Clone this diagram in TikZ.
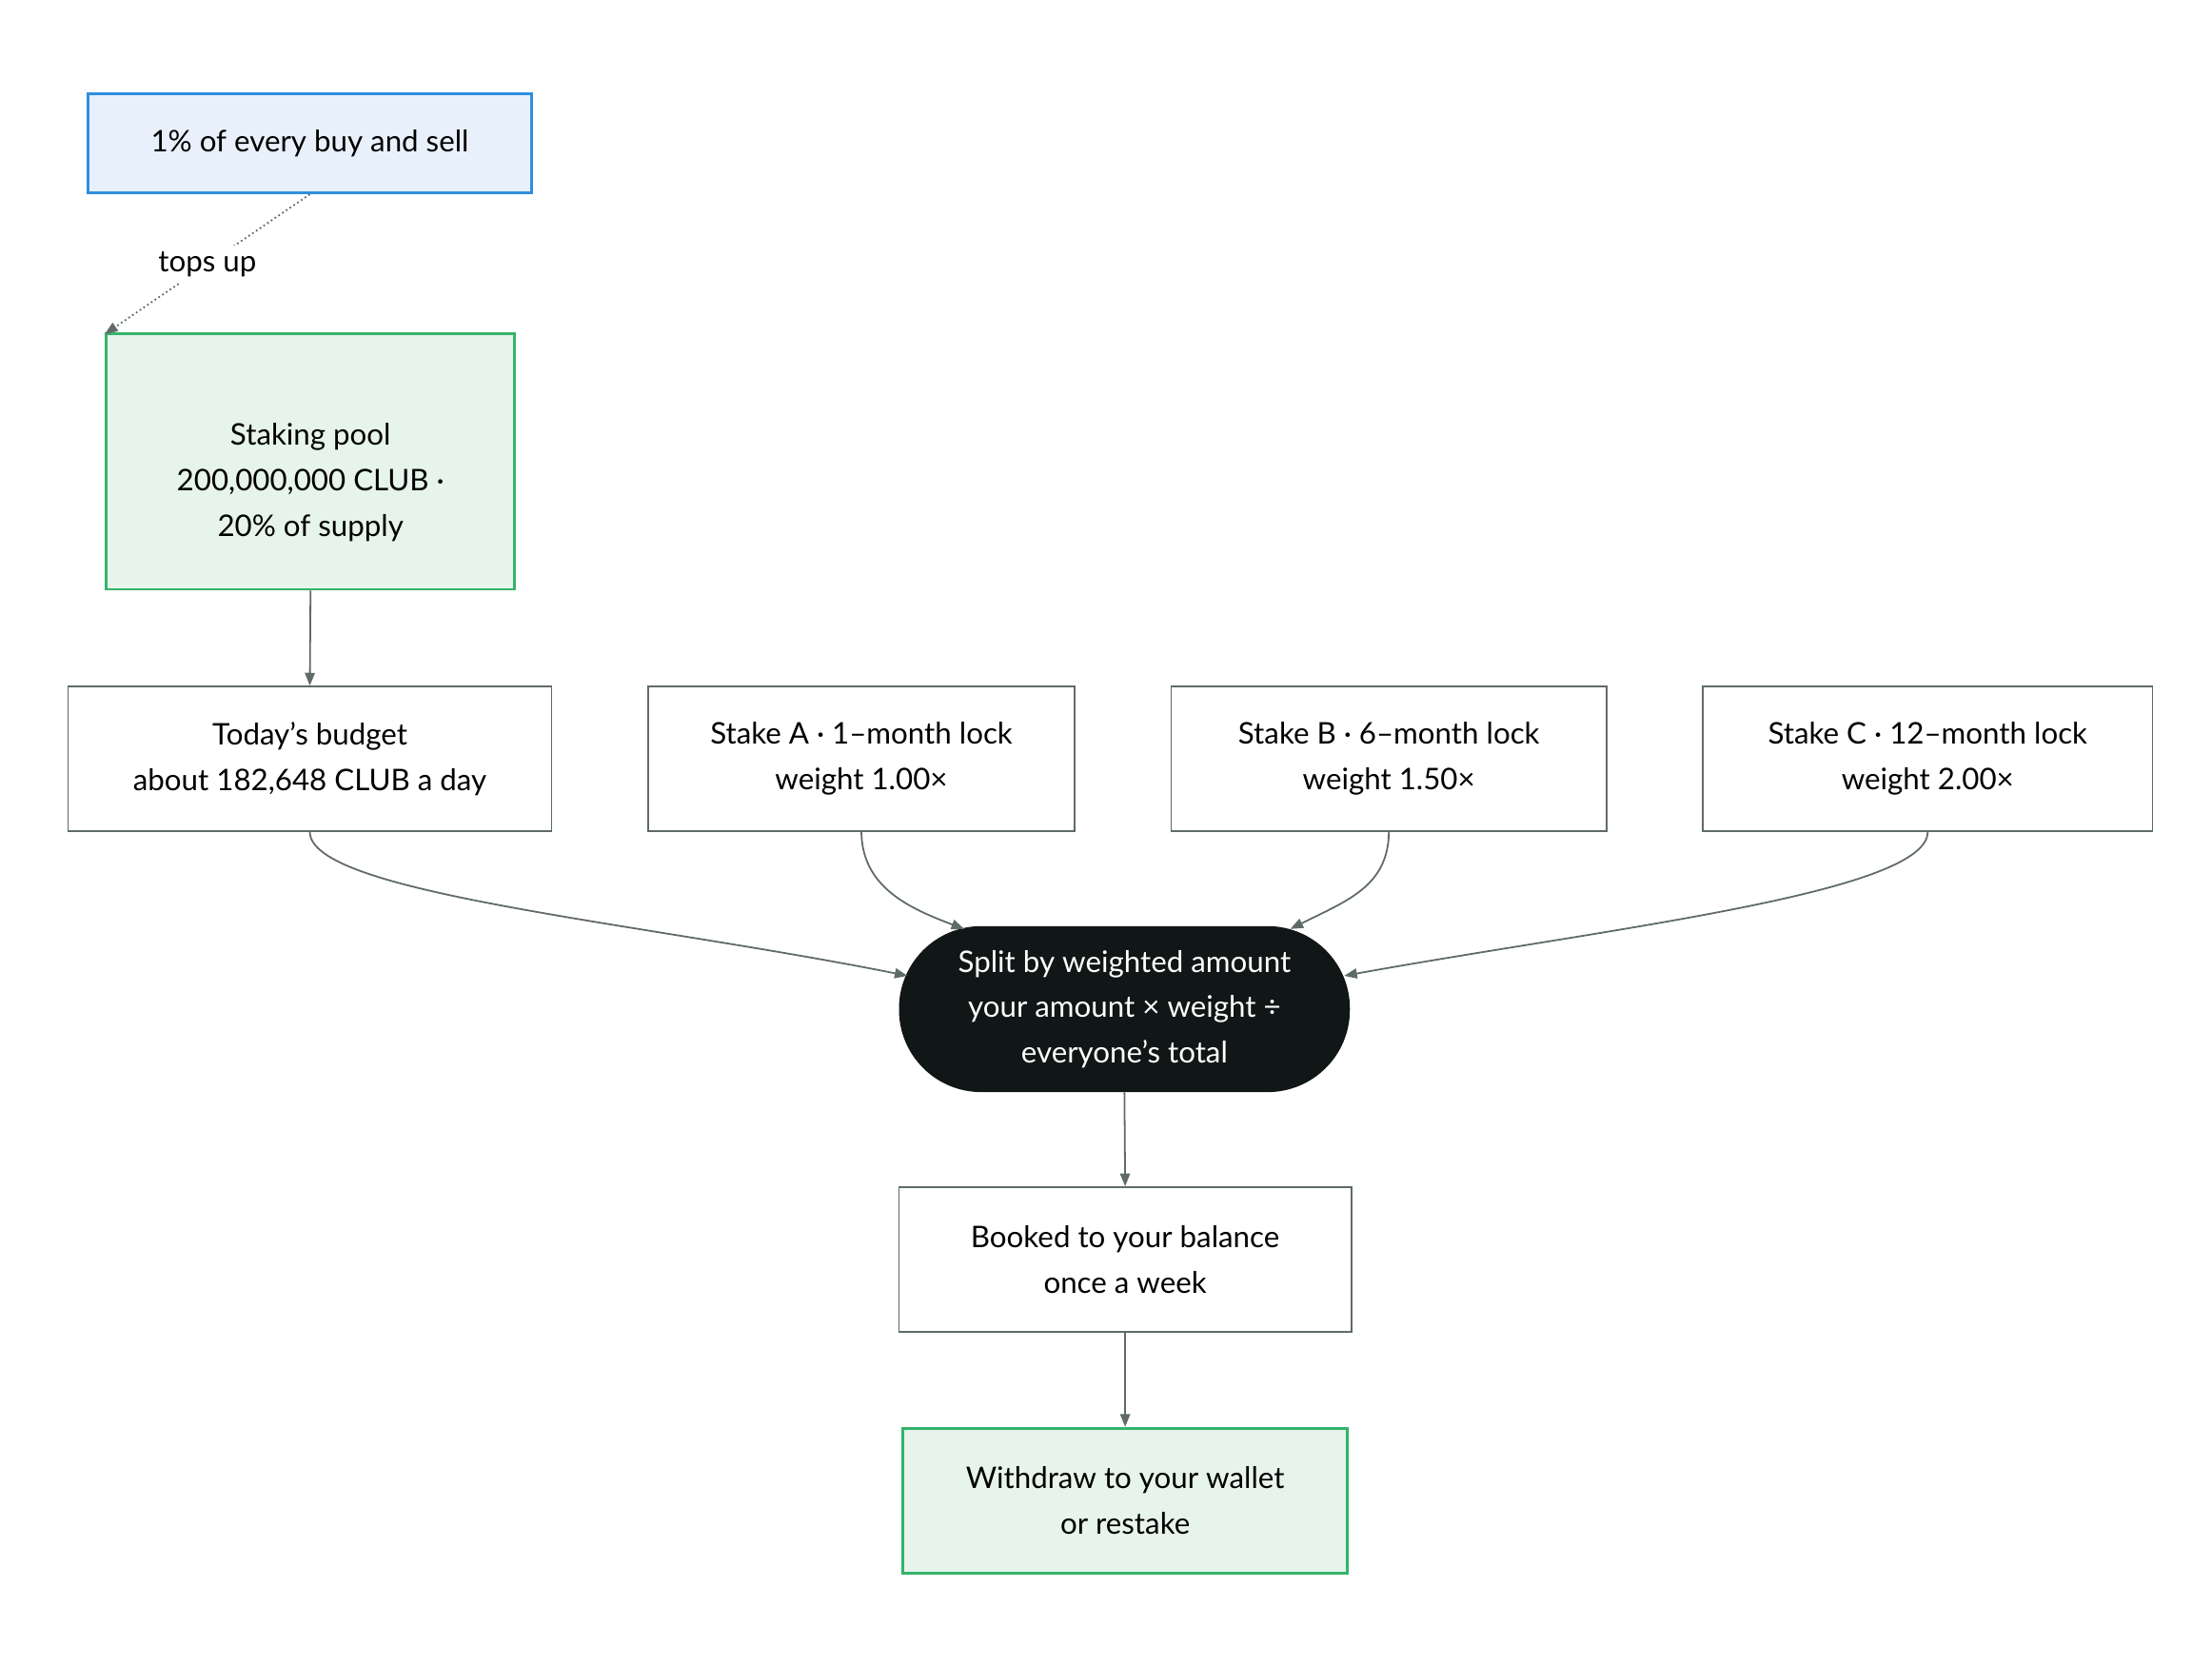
\documentclass[tikz,border=0pt]{standalone}
\usepackage{fontspec}
\setmainfont{Lato}
\usetikzlibrary{shapes.geometric,arrows.meta}
\definecolor{edge}{HTML}{5F6B66}
\definecolor{bluef}{HTML}{E8F1FB}
\definecolor{blueb}{HTML}{2F8FE0}
\definecolor{greenf}{HTML}{E6F4EC}
\definecolor{greenb}{HTML}{34B36A}
\definecolor{dark}{HTML}{111616}
\tikzset{
 every node/.style={font=\fontsize{21}{32}\selectfont, align=center, inner sep=0},
 plain/.style={draw=edge, line width=1.2pt, fill=white},
 conn/.style={draw=edge, line width=1.2pt, -{Triangle[length=9pt,width=7pt]}},
}
\begin{document}
\begin{tikzpicture}[x=1pt,y=-1pt]
\useasboundingbox (0,0) rectangle (1560,1175);
\node[draw=blueb, fill=bluef, line width=2pt, minimum width=313pt, minimum height=70pt] (src) at (218.5,101) {1\% of every buy and sell};
\node[cylinder, shape border rotate=90, aspect=0.28, draw=greenb, fill=greenf, line width=2pt, minimum width=288pt, minimum height=180pt] (pool) at (219,326) {};
\node at (219,340) {Staking pool\\200,000,000 CLUB ·\\20\% of supply};
\node[plain, minimum width=341pt, minimum height=102pt] (bud) at (218.5,535) {Today's budget\\about 182,648 CLUB a day};
\node[plain, minimum width=301pt, minimum height=102pt] (a) at (607.5,535) {Stake A · 1–month lock\\weight 1.00×};
\node[plain, minimum width=307pt, minimum height=102pt] (b) at (979.5,535) {Stake B · 6–month lock\\weight 1.50×};
\node[plain, minimum width=317pt, minimum height=102pt] (c) at (1359.5,535) {Stake C · 12–month lock\\weight 2.00×};
\node[fill=dark, text=white, rounded corners=58pt, minimum width=318pt, minimum height=117pt] (split) at (793,711.5) {Split by weighted amount\\your amount × weight ÷\\everyone's total};
\node[plain, minimum width=319pt, minimum height=102pt] (book) at (793.5,888) {Booked to your balance\\once a week};
\node[draw=greenb, fill=greenf, line width=2pt, minimum width=313pt, minimum height=102pt] (wd) at (793.5,1058) {Withdraw to your wallet\\or restake};
\draw[conn, dotted] (src.south) -- node[fill=white, inner sep=4pt]{tops up} (pool.before top);
\draw[conn] (pool.bottom) -- (bud.north);
\draw[conn] (bud.south) .. controls (219,630) and (450,650) .. (640,688);
\draw[conn] (a.south) .. controls (608,625) and (640,640) .. (680,655);
\draw[conn] (b.south) .. controls (979,625) and (950,635) .. (910,655);
\draw[conn] (c.south) .. controls (1359,630) and (1130,655) .. (948,688);
\draw[conn] (split.south) -- (book.north);
\draw[conn] (book.south) -- (wd.north);
\end{tikzpicture}
\end{document}
